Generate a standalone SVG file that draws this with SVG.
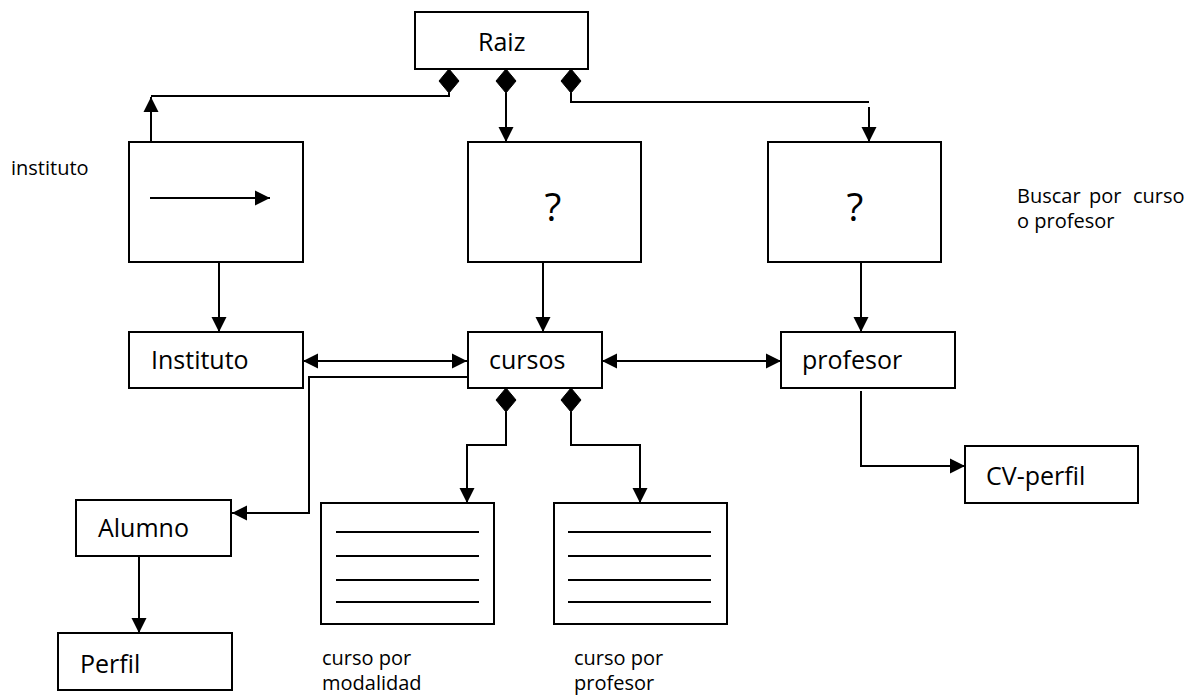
<svg xmlns="http://www.w3.org/2000/svg" width="1199" height="696" viewBox="0 0 1199 696">
<style>
.box{fill:#fff;stroke:#000;stroke-width:2}
.ln{fill:none;stroke:#000;stroke-width:2}
.arr{fill:none;stroke:#000;stroke-width:2;marker-end:url(#ah)}
.dbl{fill:none;stroke:#000;stroke-width:2;marker-end:url(#ah);marker-start:url(#ah)}
.dia{fill:#000;stroke:#000;stroke-width:1}
.lbl{font-family:"Open Sans","Liberation Sans",sans-serif;font-size:25px;fill:#000}
.sm{font-family:"Open Sans","Liberation Sans",sans-serif;font-size:20px;fill:#000}
.q{font-family:"Open Sans","Liberation Sans",sans-serif;font-size:39px;fill:#000;text-anchor:middle}
</style>
<defs>
<marker id="ah" markerUnits="userSpaceOnUse" markerWidth="16" markerHeight="16" viewBox="0 0 16 16" refX="15" refY="8" orient="auto-start-reverse">
<path d="M0,0.5 L15,8 L0,15.5 z" fill="#000"/>
</marker>
</defs>
<g id="connectors">
<polygon class="dia" points="449,69 459,81 449,93 439,81"/>
<polygon class="dia" points="506,69 516,81 506,93 496,81"/>
<polygon class="dia" points="571,69 581,81 571,93 561,81"/>
<path class="ln" d="M449,93 V96 H151"/>
<path class="arr" d="M151,143 V97"/>
<path class="arr" d="M506,93 V142"/>
<path class="ln" d="M571,93 V102 H869"/>
<path class="arr" d="M869,107 V142"/>
<path class="arr" d="M219,263 V332"/>
<path class="arr" d="M543,263 V332"/>
<path class="arr" d="M861,263 V332"/>
<path class="dbl" d="M303,361 H467"/>
<path class="dbl" d="M602,361 H781"/>
<path class="arr" d="M467,377 H309 V513 H232"/>
<polygon class="dia" points="506,388 516,400 506,412 496,400"/>
<polygon class="dia" points="571,388 581,400 571,412 561,400"/>
<path class="arr" d="M506,412 V445 H467 V503"/>
<path class="arr" d="M571,412 V445 H640 V503"/>
<path class="arr" d="M861,391 V466 H965"/>
<path class="arr" d="M139,557 V633"/>
</g>
<g id="raiz">
<rect class="box" x="415" y="12" width="173" height="57"/>
<text class="lbl" x="478" y="51">Raiz</text>
</g>
<g id="instituto-box">
<rect class="box" x="129" y="142" width="174" height="120"/>
<path class="arr" d="M150,198 H270"/>
</g>
<g id="label-instituto">
<text class="sm" x="11" y="175">instituto</text>
</g>
<g id="q-cursos">
<rect class="box" x="468" y="142" width="173" height="120"/>
<text class="q" x="553" y="221">?</text>
</g>
<g id="q-profesor">
<rect class="box" x="768" y="142" width="173" height="120"/>
<text class="q" x="855" y="221">?</text>
</g>
<g id="label-buscar">
<text class="sm" y="203"><tspan x="1017">Buscar</tspan><tspan x="1089">por</tspan><tspan x="1133">curso</tspan></text>
<text class="sm" x="1017" y="228">o profesor</text>
</g>
<g id="instituto">
<rect class="box" x="129" y="332" width="174" height="56"/>
<text class="lbl" x="151" y="369">Instituto</text>
</g>
<g id="cursos">
<rect class="box" x="468" y="332" width="134" height="56"/>
<text class="lbl" x="489" y="369">cursos</text>
</g>
<g id="profesor">
<rect class="box" x="781" y="332" width="174" height="56"/>
<text class="lbl" x="802" y="369">profesor</text>
</g>
<g id="cv-perfil">
<rect class="box" x="965" y="446" width="173" height="57"/>
<text class="lbl" x="986" y="485">CV-perfil</text>
</g>
<g id="alumno">
<rect class="box" x="76" y="500" width="155" height="56"/>
<text class="lbl" x="98" y="537">Alumno</text>
</g>
<g id="perfil">
<rect class="box" x="58" y="633" width="174" height="57"/>
<text class="lbl" x="80" y="673">Perfil</text>
</g>
<g id="curso-modalidad">
<rect class="box" x="321" y="503" width="173" height="121"/>
<path class="ln" d="M336,532 H479 M336,556 H479 M336,580 H479 M336,602 H479"/>
<text class="sm" x="322" y="665">curso por</text>
<text class="sm" x="322" y="690">modalidad</text>
</g>
<g id="curso-profesor">
<rect class="box" x="554" y="503" width="173" height="121"/>
<path class="ln" d="M568,532 H711 M568,556 H711 M568,580 H711 M568,602 H711"/>
<text class="sm" x="574" y="665">curso por</text>
<text class="sm" x="574" y="690">profesor</text>
</g>
</svg>
